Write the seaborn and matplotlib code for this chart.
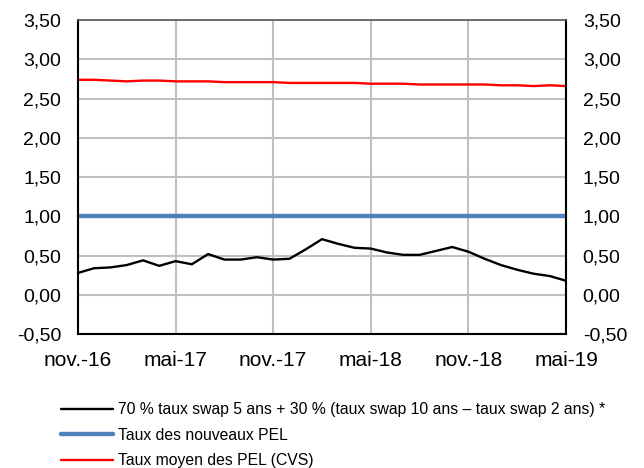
import pandas as pd
import numpy as np
import seaborn as sns
import matplotlib.pyplot as plt

months = pd.date_range("2016-11-01", "2019-05-01", freq="MS")

swap_mix = [0.28, 0.34, 0.35, 0.38, 0.44, 0.37, 0.43, 0.39, 0.52, 0.45,
            0.45, 0.48, 0.45, 0.46, 0.58, 0.71, 0.65, 0.60, 0.59, 0.54,
            0.51, 0.51, 0.56, 0.61, 0.55, 0.46, 0.38, 0.32, 0.27, 0.24, 0.18]
new_pel = [1.00] * 31
avg_pel = [2.74, 2.74, 2.73, 2.72, 2.73, 2.73, 2.72, 2.72, 2.72, 2.71,
           2.71, 2.71, 2.71, 2.70, 2.70, 2.70, 2.70, 2.70, 2.69, 2.69,
           2.69, 2.68, 2.68, 2.68, 2.68, 2.68, 2.67, 2.67, 2.66, 2.67, 2.66]

labels = ["70 % taux swap 5 ans + 30 % (taux swap 10 ans \u2013 taux swap 2 ans) *",
          "Taux des nouveaux PEL",
          "Taux moyen des PEL (CVS)"]
tick_labels = ["nov.-16", "mai-17", "nov.-17", "mai-18", "nov.-18", "mai-19"]
yticks = [-0.5, 0.0, 0.5, 1.0, 1.5, 2.0, 2.5, 3.0, 3.5]

sns.set_style("white")
plt.rcParams["font.family"] = ["Liberation Sans", "DejaVu Sans"]
plt.rcParams["text.color"] = "black"
plt.rcParams["xtick.color"] = "black"
plt.rcParams["ytick.color"] = "black"

df = pd.DataFrame({"x": np.arange(len(months)), "swap": swap_mix,
                   "new": new_pel, "avg": avg_pel})

fig = plt.figure(figsize=(6.44, 4.68), dpi=100)
ax = fig.add_axes([0.121, 0.286, 0.758, 0.671])

sns.lineplot(data=df, x="x", y="swap", ax=ax, color="black", linewidth=1.7, label=labels[0])
sns.lineplot(data=df, x="x", y="new", ax=ax, color="#4f81bd", linewidth=3.2, label=labels[1])
sns.lineplot(data=df, x="x", y="avg", ax=ax, color="#ff0000", linewidth=1.7, label=labels[2])

ytl = [f"{v:.2f}".replace(".", ",") for v in yticks]

ax.set_xlim(0, len(months) - 1)
ax.set_ylim(-0.5, 3.5)
ax.set_xticks(np.arange(0, len(months), 6))
ax.set_xticklabels(tick_labels, fontsize=15)
ax.set_yticks(yticks)
ax.set_yticklabels(ytl, fontsize=14)
ax.grid(True, color="#c0c0c0", linewidth=1.5)
ax.set_axisbelow(True)
ax.set_xlabel("")
ax.set_ylabel("")
ax.tick_params(axis="y", length=0, pad=12)
ax.tick_params(axis="x", length=0, pad=12)

for s in ["left", "right", "bottom"]:
    ax.spines[s].set_color("black")
    ax.spines[s].set_linewidth(1.5)
ax.spines["top"].set_color("#595959")
ax.spines["top"].set_linewidth(1.2)

ax2 = ax.twinx()
ax2.set_ylim(-0.5, 3.5)
ax2.set_yticks(yticks)
ax2.set_yticklabels(ytl, fontsize=14)
ax2.tick_params(axis="y", length=0, pad=12)
for s in ax2.spines.values():
    s.set_visible(False)

handles, labs = ax.get_legend_handles_labels()
ax.legend_.remove()
fig.legend(handles, labs, loc="upper left", bbox_to_anchor=(0.095, 0.141),
           frameon=False, fontsize=11.3, handlelength=3.3, handletextpad=0.3,
           labelspacing=0.68, borderaxespad=0, borderpad=0)

fig.savefig("out.png", dpi=100)
